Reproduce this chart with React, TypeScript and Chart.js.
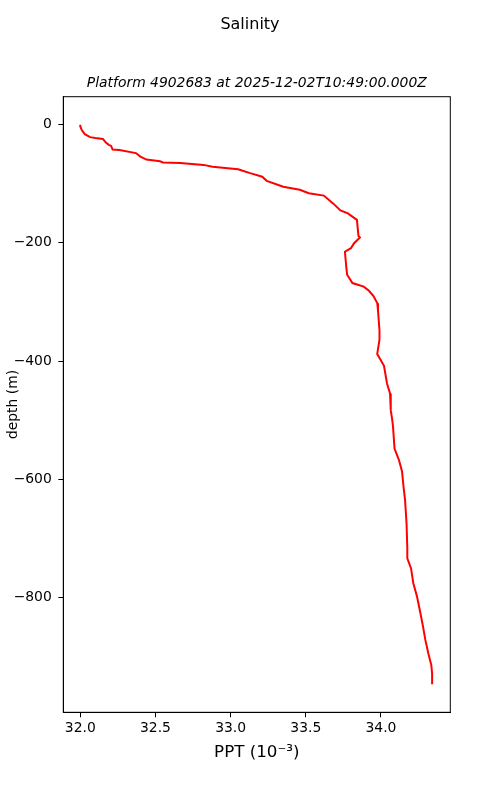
import React, { useEffect, useRef } from "react";
import { Chart, registerables } from "chart.js";

Chart.register(...registerables);

const SUPTITLE = "Salinity";
const SUBTITLE = "Platform 4902683 at 2025-12-02T10:49:00.000Z";
const X_LABEL = "PPT (10\u207B\u00B3)";
const Y_LABEL = "depth (m)";

const DEPTH = [
  0, -3, -9, -16, -21, -22.5, -24, -30, -34, -36, -42, -43, -48, -54, -59, -62, -64, -65, -68, -71,
  -75.5, -77, -82, -88, -95, -105, -110, -116, -120, -134, -145, -150, -161, -188, -191, -201, -209,
  -215, -229, -243, -254, -268, -274, -281, -290, -302, -314, -348, -364, -388, -408, -438, -455,
  -483, -500, -511, -548, -568, -587, -613, -635, -675, -717, -734, -751, -776, -799, -824, -850,
  -872, -895, -915, -929, -947,
];
const SALINITY = [
  32.0, 32.0, 32.01, 32.03, 32.065, 32.1, 32.15, 32.17, 32.19, 32.205, 32.215, 32.26, 32.37, 32.4,
  32.44, 32.53, 32.55, 32.665, 32.82, 32.88, 33.05, 33.07, 33.13, 33.21, 33.24, 33.35, 33.46, 33.52,
  33.62, 33.685, 33.73, 33.78, 33.84, 33.85, 33.86, 33.82, 33.8, 33.76, 33.765, 33.77, 33.775, 33.81,
  33.885, 33.92, 33.95, 33.975, 33.98, 33.99, 33.99, 33.975, 34.02, 34.04, 34.06, 34.065, 34.075,
  34.08, 34.09, 34.12, 34.14, 34.15, 34.16, 34.17, 34.175, 34.175, 34.2, 34.215, 34.24, 34.26, 34.28,
  34.295, 34.315, 34.335, 34.34, 34.34,
];

const X_TICKS = [32.0, 32.5, 33.0, 33.5, 34.0];
const X_TICK_LABELS = ["32.0", "32.5", "33.0", "33.5", "34.0"];
const Y_TICKS = [0, -200, -400, -600, -800];
const Y_TICK_LABELS = ["0", "\u2212200", "\u2212400", "\u2212600", "\u2212800"];

const X_MIN = 31.887;
const X_MAX = 34.461;
const Y_MIN = -994.5;
const Y_MAX = 47.4;

const FONT = "'DejaVu Sans', sans-serif";

export default function App() {
  const ref = useRef<HTMLCanvasElement | null>(null);

  useEffect(() => {
    if (!ref.current) return;
    const data = DEPTH.map((d, i) => ({ x: SALINITY[i], y: d }));

    const decor = {
      id: "decor",
      afterDraw(chart: any) {
        const { ctx, chartArea } = chart;
        ctx.save();
        ctx.strokeStyle = "#000";
        ctx.lineWidth = 1;
        ctx.strokeRect(
          chartArea.left,
          chartArea.top,
          chartArea.right - chartArea.left,
          chartArea.bottom - chartArea.top
        );
        ctx.fillStyle = "#000";
        ctx.textAlign = "center";
        ctx.textBaseline = "middle";
        ctx.font = `16px ${FONT}`;
        ctx.fillText(SUPTITLE, 250, 25);
        ctx.font = `italic 13.9px ${FONT}`;
        ctx.fillText(SUBTITLE, (chartArea.left + chartArea.right) / 2, 83);
        ctx.restore();
      },
    };

    const chart = new Chart(ref.current, {
      type: "scatter",
      data: {
        datasets: [
          {
            data,
            showLine: true,
            borderColor: "#ff0000",
            backgroundColor: "#ff0000",
            borderWidth: 2,
            pointRadius: 0,
            pointHoverRadius: 0,
            tension: 0,
          },
        ],
      },
      options: {
        animation: false,
        responsive: false,
        maintainAspectRatio: false,
        devicePixelRatio: 1,
        layout: { padding: { top: 96.7, right: 49.7, left: 0, bottom: 0 } },
        plugins: {
          legend: { display: false },
          tooltip: { enabled: false },
          title: { display: false },
        },
        scales: {
          x: {
            type: "linear",
            position: "bottom",
            min: X_MIN,
            max: X_MAX,
            afterBuildTicks: (scale: any) => {
              scale.ticks = X_TICKS.map((v) => ({ value: v }));
            },
            afterFit: (scale: any) => {
              scale.height = 87.7;
            },
            ticks: {
              autoSkip: false,
              maxRotation: 0,
              padding: 3,
              color: "#000",
              font: { family: FONT, size: 13.9 },
              callback: (v: any) => {
                const i = X_TICKS.indexOf(Number(v));
                return i >= 0 ? X_TICK_LABELS[i] : "";
              },
            },
            grid: {
              display: true,
              drawOnChartArea: false,
              drawTicks: true,
              tickLength: 5,
              tickColor: "#000",
              tickWidth: 1,
            },
            border: { display: true, color: "#000", width: 1 },
            title: {
              display: true,
              text: X_LABEL,
              color: "#000",
              font: { family: FONT, size: 16.7 },
              padding: { top: 0, bottom: 37.5 },
            },
          },
          y: {
            type: "linear",
            position: "left",
            min: Y_MIN,
            max: Y_MAX,
            afterBuildTicks: (scale: any) => {
              scale.ticks = Y_TICKS.map((v) => ({ value: v }));
            },
            afterFit: (scale: any) => {
              scale.width = 63.3;
            },
            ticks: {
              autoSkip: false,
              padding: 6.5,
              color: "#000",
              font: { family: FONT, size: 13.9 },
              callback: (v: any) => {
                const i = Y_TICKS.indexOf(Number(v));
                return i >= 0 ? Y_TICK_LABELS[i] : "";
              },
            },
            grid: {
              display: true,
              drawOnChartArea: false,
              drawTicks: true,
              tickLength: 5,
              tickColor: "#000",
              tickWidth: 1,
            },
            border: { display: true, color: "#000", width: 1 },
            title: {
              display: true,
              text: Y_LABEL,
              color: "#000",
              font: { family: FONT, size: 13.9 },
              padding: { top: 4.7, bottom: 0 },
            },
          },
        },
      },
      plugins: [decor],
    } as any);

    return () => chart.destroy();
  }, []);

  return (
    <div style={{ position: "absolute", left: 0, top: 0, width: 500, height: 800, background: "#fff" }}>
      <canvas ref={ref} width={500} height={800} style={{ display: "block" }} />
    </div>
  );
}
